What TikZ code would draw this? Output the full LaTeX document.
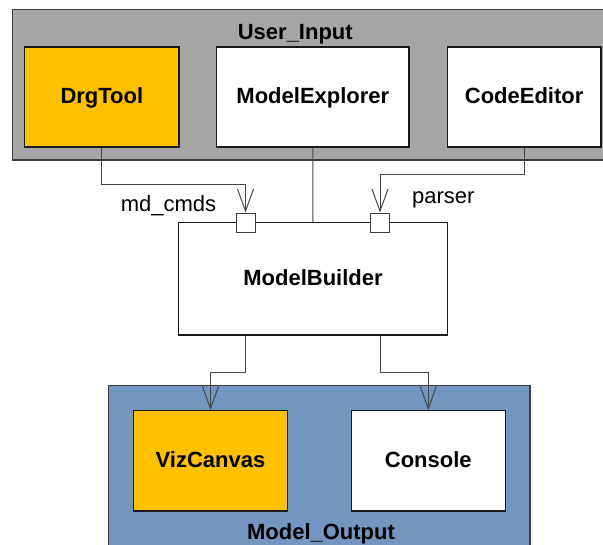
\documentclass[tikz,border=0pt]{standalone}
\usepackage{fontspec}
\setmainfont{Liberation Sans}
\usetikzlibrary{arrows.meta}
\definecolor{contgray}{HTML}{A6A6A6}
\definecolor{compyellow}{HTML}{FFC000}
\definecolor{contblue}{RGB}{115,150,193}
\definecolor{edgecol}{HTML}{1A1A1A}
\definecolor{conncol}{HTML}{474747}
\tikzset{
  container/.style={draw=edgecol!85!white, line width=1.2pt},
  comp/.style={draw=edgecol, line width=1.3pt, fill=white, inner sep=0pt,
    font=\fontsize{22}{26}\selectfont\bfseries, text height=16pt, text depth=3pt},
  portbox/.style={draw=edgecol!85!white, line width=1pt, fill=white, minimum width=19pt, minimum height=19pt, inner sep=0pt},
  conn/.style={draw=conncol, line width=1pt},
  flow/.style={conn, -{Straight Barb[length=22pt,width=16pt,line width=1pt]}},
  ctitle/.style={font=\fontsize{22}{26}\selectfont\bfseries, anchor=base, inner sep=0pt},
  lbl/.style={font=\fontsize{22}{26}\selectfont, anchor=base, inner sep=0pt},
}
\begin{document}
\begin{tikzpicture}[x=1pt,y=-1pt]
\useasboundingbox (0,0) rectangle (603,545);
\clip (0,0) rectangle (603,545);
% containers
\draw[container, fill=contgray] (12.3,9.3) rectangle (615,160);
\node[ctitle] (uititle) at (295.3,39.3) {User\_Input};
\draw[container, fill=contblue] (108.3,385.3) rectangle (530,560);
\node[ctitle] (motitle) at (321,539) {Model\_Output};
% components
\node[comp, fill=compyellow, minimum width=154.3pt, minimum height=100pt] (drg) at (101.85,97) {DrgTool};
\node[comp, minimum width=192.3pt, minimum height=100pt] (mexp) at (312.85,97) {ModelExplorer};
\node[comp, minimum width=153.7pt, minimum height=100pt] (cedit) at (524.15,97) {CodeEditor};
\node[comp, minimum width=268.6pt, minimum height=112.3pt] (mb) at (313,278.85) {ModelBuilder};
\node[comp, fill=compyellow, minimum width=153.6pt, minimum height=100.3pt] (viz) at (210.5,460.85) {VizCanvas};
\node[comp, minimum width=154pt, minimum height=100.3pt] (con) at (428.3,460.85) {Console};
% ports
\node[portbox] (p1) at (245.5,222.6) {};
\node[portbox] (p2) at (380,222.6) {};
% bend points
\coordinate (b1) at (245.5,184.5);
\coordinate (b2) at (380,174.7);
\coordinate (b3) at (245.5,372.7);
\coordinate (b4) at (380,372.7);
% connectors
\draw[flow] (drg.south) |- (b1) -- (p1.north);
\draw[conn] (mexp.south) -- (mb.north);
\draw[flow] (cedit.south) |- (b2) -- (p2.north);
\draw[flow] (mb.south -| p1) -- (b3) -| (viz.north);
\draw[flow] (mb.south -| p2) -- (b4) -| (con.north);
% labels
\node[lbl] (mdl) at (168.5,211.7) {md\_cmds};
\node[lbl] (pl) at (443.3,204) {parser};
\end{tikzpicture}
\end{document}
